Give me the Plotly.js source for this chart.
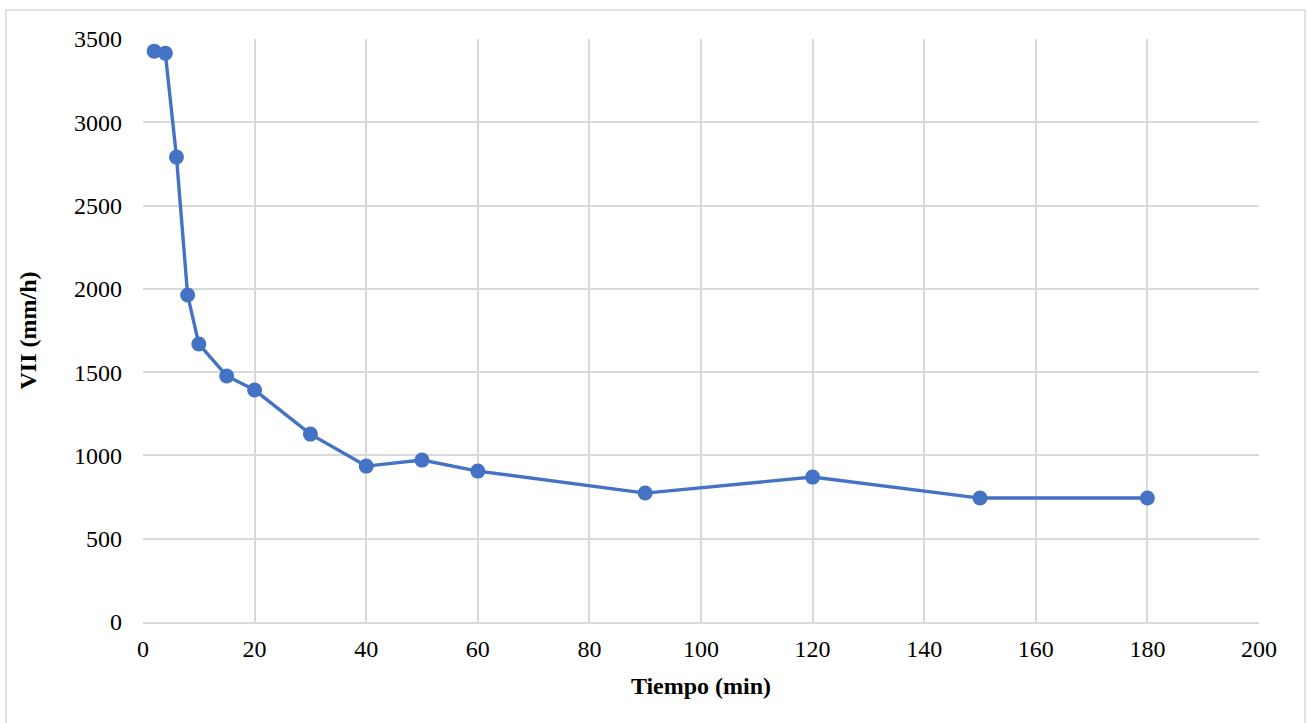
<!DOCTYPE html>
<html><head><meta charset="utf-8">
<script src="https://cdn.plot.ly/plotly-3.0.1.min.js"></script>
<style>html,body{margin:0;padding:0;background:#fff;}#c{width:1310px;height:723px;}</style>
</head><body><div id="c"></div>
<script>
const tiempo = [2, 4, 6, 8, 10, 15, 20, 30, 40, 50, 60, 90, 120, 150, 180];
const vii = [3427, 3415, 2791, 1963, 1669, 1477, 1393, 1128, 936, 972, 906, 774, 870, 744, 744];
const xTitle = 'Tiempo (min)';
const yTitle = 'VII (mm/h)';

const L = 143, R = 51, T = 39, B = 101, W = 1310, H = 723;
const pw = W - L - R, ph = H - T - B;
const px = v => (v - L) / pw;
const py = v => (H - B - v) / ph;

const trace = {
  x: tiempo, y: vii, type: 'scatter', mode: 'lines+markers',
  line: {color: '#4472C4', width: 3.4},
  marker: {color: '#4472C4', size: 15},
  cliponaxis: false, hoverinfo: 'skip'
};
const fam = 'Liberation Serif, Times New Roman, serif';
const font = {family: fam, size: 24, color: '#000'};
const tfont = {family: fam, size: 24, color: '#000'};
const layout = {
  width: W, height: H,
  margin: {l: L, r: R, t: T, b: B},
  paper_bgcolor: '#fff', plot_bgcolor: '#fff',
  showlegend: false,
  font: font,
  xaxis: {
    range: [0, 200], dtick: 20, tick0: 0,
    showgrid: true, gridcolor: '#d9d9d9', gridwidth: 2,
    zeroline: false, showline: true, linecolor: '#d9d9d9', linewidth: 2,
    ticks: '', ticklen: 0, tickfont: font, ticklabelstandoff: 4,
    title: {text: '<b>' + xTitle + '</b>', font: tfont, standoff: 16},
    fixedrange: true
  },
  yaxis: {
    range: [0, 3500], dtick: 500, tick0: 0,
    showgrid: true, gridcolor: '#d9d9d9', gridwidth: 2,
    zeroline: false, showline: false,
    ticks: '', tickfont: font, ticklabelstandoff: 20,
    title: {text: '<b>' + yTitle + '</b>', font: tfont, standoff: 30},
    fixedrange: true
  },
  shapes: [{
    type: 'rect', xref: 'paper', yref: 'paper',
    x0: px(6), x1: px(1305), y0: py(760), y1: py(10),
    line: {color: '#d9d9d9', width: 1.5}, fillcolor: 'rgba(0,0,0,0)', layer: 'below'
  }]
};
Plotly.newPlot('c', [trace], layout, {displayModeBar: false, staticPlot: true});
</script></body></html>
